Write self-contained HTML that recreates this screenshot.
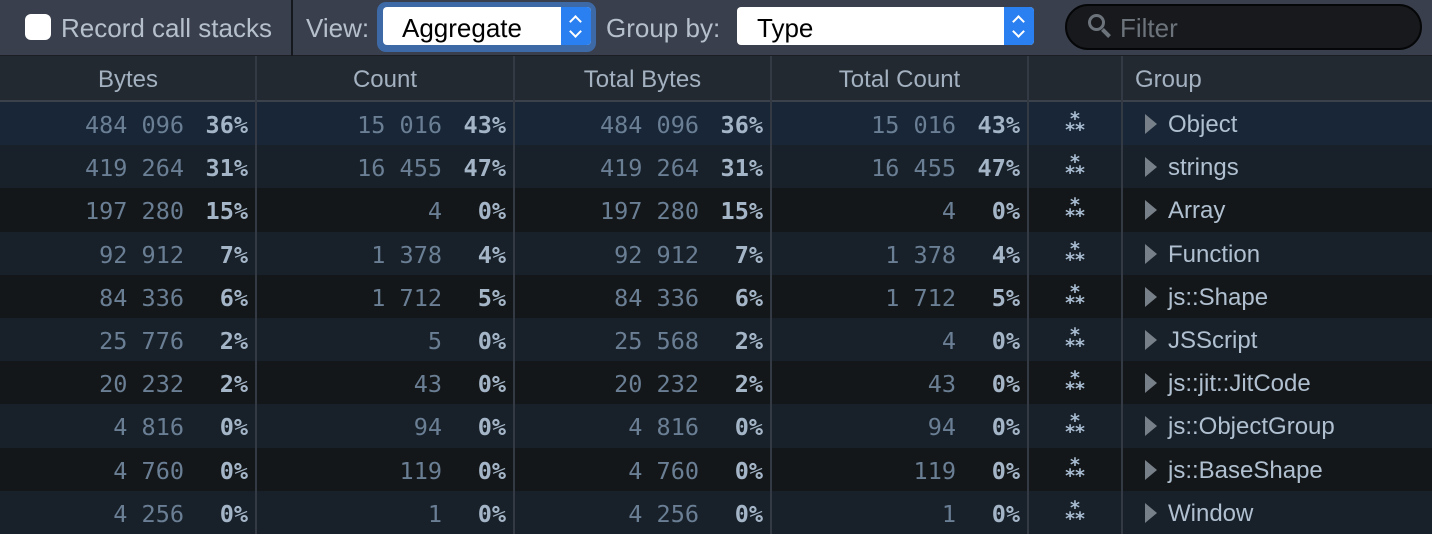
<!DOCTYPE html>
<html><head><meta charset="utf-8"><style>
*{margin:0;padding:0;box-sizing:border-box}
body{width:1432px;height:534px;overflow:hidden;background:#141618;font-family:"Liberation Sans",sans-serif;position:relative}
.tb{position:absolute;left:0;top:0;width:1432px;height:56px;background:#393f4c;border-bottom:1px solid #1b1e22}
.abs{position:absolute}
.lbl{color:#b6c0cc;font-size:26px;top:13px}
.hdr{position:absolute;top:56px;left:0;width:1432px;height:46px;background:#232931;border-bottom:2px solid #3b424c}
.hdr div{position:absolute;top:10px;color:#a3b1c0;font-size:24px;text-align:center}
.vl{position:absolute;top:56px;width:2px;height:478px;background:#343a43}
.row{position:absolute;left:0;width:1432px;height:43.3px}
.n,.p{position:absolute;font-family:"DejaVu Sans Mono","Liberation Mono",monospace;font-size:23.5px;top:9px;text-align:right}
.n{color:#6a7e94;width:200px}
.p{color:#a4b5c7;font-weight:bold;width:80px}
.g{position:absolute;left:1168px;top:9px;font-size:24px;color:#b0c0d0}
.tri{position:absolute;left:1145px;top:12px;width:0;height:0;border-top:10px solid transparent;border-bottom:10px solid transparent;border-left:12px solid #777f88}
.st{position:absolute;left:1062px;top:12px;color:#a9bdd2;font-size:19px;line-height:11px;font-weight:bold;text-align:center;width:26px;font-family:"DejaVu Sans",sans-serif}
.ar{position:absolute;width:30px;height:38px;top:7px;background:#2a80f0;border-radius:0 4px 4px 0}
.ar:before,.ar:after{content:"";position:absolute;left:10px;width:7px;height:7px;border-left:2px solid #fff;border-top:2px solid #fff}
.ar:before{top:10px;transform:rotate(45deg)}
.ar:after{top:20px;transform:rotate(225deg)}
</style></head><body>
<div class="tb"></div>
<div class="abs" style="left:25px;top:14px;width:26px;height:26px;background:#fff;border-radius:6px"></div>
<div class="abs lbl" style="left:61px">Record call stacks</div>
<div class="abs" style="left:291px;top:0;width:2px;height:56px;background:#15181c"></div>
<div class="abs lbl" style="left:306px">View:</div>
<div class="abs" style="left:377px;top:2px;width:219px;height:50px;background:#3d6aa6;border-radius:9px"></div>
<div class="abs" style="left:383px;top:7px;width:208px;height:38px;background:#fff;border-radius:4px"></div>
<div class="ar" style="left:561px"></div>
<div class="abs" style="left:402px;top:13px;font-size:26px;color:#000">Aggregate</div>
<div class="abs lbl" style="left:606px">Group by:</div>
<div class="abs" style="left:737px;top:7px;width:297px;height:38px;background:#fff;border-radius:4px"></div>
<div class="ar" style="left:1004px"></div>
<div class="abs" style="left:757px;top:13px;font-size:26px;color:#000">Type</div>
<div class="abs" style="left:1065px;top:4px;width:357px;height:46px;background:#17191c;border:2px solid #050607;border-radius:23px"></div>
<div class="abs" style="left:1088px;top:14px;width:17px;height:17px;border:3px solid #6c737b;border-radius:50%"></div>
<div class="abs" style="left:1101px;top:31px;width:10px;height:4px;background:#6c737b;transform:rotate(45deg)"></div>
<div class="abs" style="left:1120px;top:13px;font-size:26px;color:#6c737b">Filter</div>
<div class="hdr">
<div style="left:0;width:256px">Bytes</div>
<div style="left:256px;width:258px">Count</div>
<div style="left:514px;width:257px">Total Bytes</div>
<div style="left:771px;width:257px">Total Count</div>
<div style="left:1135px;text-align:left">Group</div>
</div>
<div id="rows"></div>
<div class="vl" style="left:255px"></div><div class="vl" style="left:513px"></div><div class="vl" style="left:770px"></div><div class="vl" style="left:1027px"></div><div class="vl" style="left:1121px"></div>
<script>
var d=[["484 096","36%","15 016","43%","484 096","36%","15 016","43%","Object"],
["419 264","31%","16 455","47%","419 264","31%","16 455","47%","strings"],
["197 280","15%","4","0%","197 280","15%","4","0%","Array"],
["92 912","7%","1 378","4%","92 912","7%","1 378","4%","Function"],
["84 336","6%","1 712","5%","84 336","6%","1 712","5%","js::Shape"],
["25 776","2%","5","0%","25 568","2%","4","0%","JSScript"],
["20 232","2%","43","0%","20 232","2%","43","0%","js::jit::JitCode"],
["4 816","0%","94","0%","4 816","0%","94","0%","js::ObjectGroup"],
["4 760","0%","119","0%","4 760","0%","119","0%","js::BaseShape"],
["4 256","0%","1","0%","4 256","0%","1","0%","Window"]];
var rights=[256,514,771,1028],h="";
d.forEach(function(r,i){
var bg=i==0?"#182637":(i%2?"#18212a":"#141719");
h+='<div class="row" style="top:'+(102+i*43.2)+'px;background:'+bg+'">';
for(var c=0;c<4;c++){h+='<div class="n" style="left:'+(rights[c]-72-200)+'px">'+r[c*2]+'</div><div class="p" style="left:'+(rights[c]-8-80)+'px">'+r[c*2+1]+'</div>';}
h+='<div class="st">*<br>**</div><div class="tri"></div><div class="g">'+r[8]+'</div></div>';});
document.getElementById("rows").innerHTML=h;
</script>
</body></html>
